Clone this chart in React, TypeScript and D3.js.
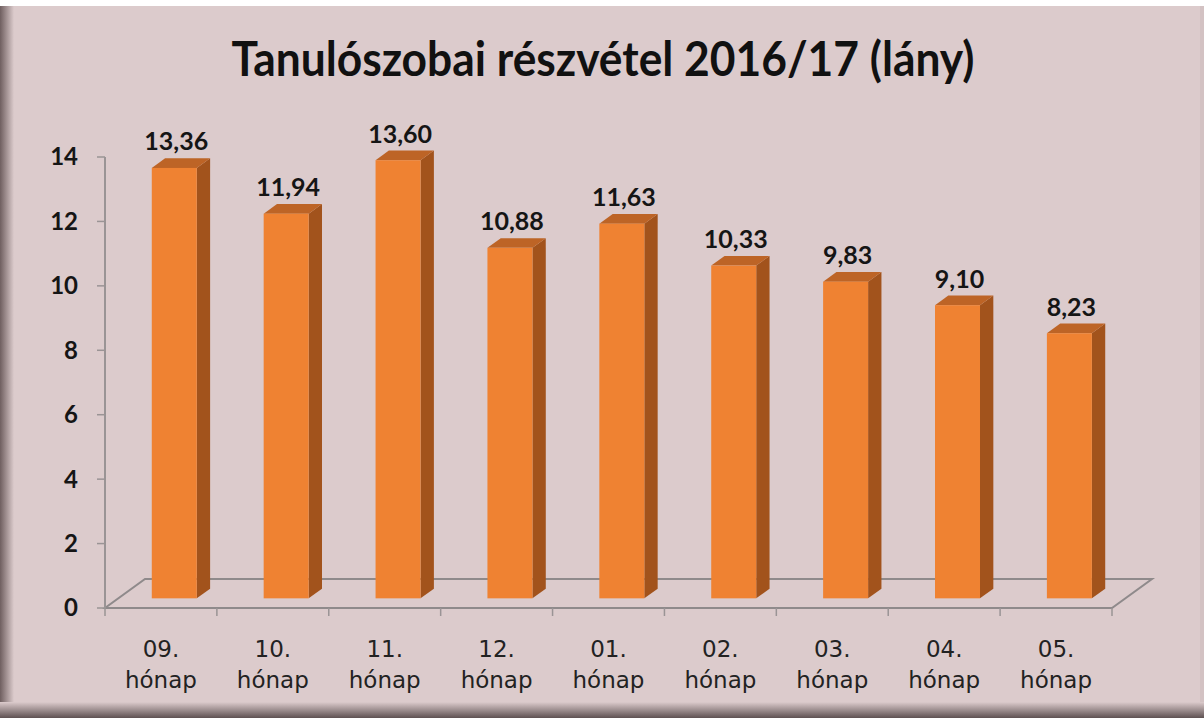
import { useEffect, useRef } from 'react';
import * as d3 from 'd3';

const months = ['09.', '10.', '11.', '12.', '01.', '02.', '03.', '04.', '05.'];
const values = [13.36, 11.94, 13.6, 10.88, 11.63, 10.33, 9.83, 9.1, 8.23];
const yTicks = [0, 2, 4, 6, 8, 10, 12, 14];

const W = 1204;
const H = 718;

function App() {
  const svgRef = useRef<SVGSVGElement>(null);

  useEffect(() => {
    const svg = d3.select(svgRef.current);
    svg.selectAll('*').remove();

    // background + frame
    const defs = svg.append('defs');
    const lg = defs.append('linearGradient').attr('id', 'leftEdge').attr('x1', 0).attr('x2', 1);
    lg.append('stop').attr('offset', 0).attr('stop-color', '#6f5f60');
    lg.append('stop').attr('offset', 1).attr('stop-color', '#dccbcc');
    const bg = defs.append('linearGradient').attr('id', 'botEdge').attr('x1', 0).attr('x2', 0).attr('y1', 0).attr('y2', 1);
    bg.append('stop').attr('offset', 0).attr('stop-color', '#dccbcc');
    bg.append('stop').attr('offset', 1).attr('stop-color', '#5e5152');

    svg.append('rect').attr('width', W).attr('height', H).attr('fill', '#ffffff');
    svg.append('rect').attr('x', 0).attr('y', 6).attr('width', W).attr('height', H - 6).attr('fill', '#dccbcc');
    svg.append('rect').attr('x', 0).attr('y', 6).attr('width', 14).attr('height', H - 6).attr('fill', 'url(#leftEdge)');
    svg.append('rect').attr('x', 0).attr('y', 702).attr('width', W).attr('height', 16).attr('fill', 'url(#botEdge)');
    svg.append('rect').attr('x', W - 4).attr('y', 6).attr('width', 4).attr('height', 696).attr('fill', '#d3c2c3');

    // title
    svg.append('text')
      .attr('x', 603).attr('y', 76)
      .attr('text-anchor', 'middle')
      .attr('textLength', 743)
      .attr('lengthAdjust', 'spacingAndGlyphs')
      .style('font-family', 'Lato, sans-serif')
      .style('font-weight', 'bold')
      .style('font-size', '47px')
      .attr('fill', '#111')
      .text('Tanulószobai részvétel 2016/17 (lány)');

    const x0 = 105, x1 = 1112;
    const depth = { x: 40, y: -29 };
    const x = d3.scaleBand().domain(months).range([x0, x1]).paddingInner(0).paddingOuter(0);
    const y = d3.scaleLinear().domain([0, 14]).range([608, 157]);

    // floor
    const floor = [
      [x0, y(0)], [x1, y(0)], [x1 + depth.x, y(0) + depth.y], [x0 + depth.x, y(0) + depth.y],
    ];
    svg.append('path')
      .attr('d', d3.line()(floor as [number, number][]) + 'Z')
      .attr('fill', 'none')
      .attr('stroke', '#8f8a8b')
      .attr('stroke-width', 2);

    // y axis
    svg.append('line')
      .attr('x1', x0).attr('x2', x0).attr('y1', y(14)).attr('y2', y(0))
      .attr('stroke', '#9a9495').attr('stroke-width', 2);
    const yg = svg.append('g');
    yTicks.forEach(t => {
      yg.append('line').attr('x1', x0 - 8).attr('x2', x0).attr('y1', y(t)).attr('y2', y(t))
        .attr('stroke', '#9a9495').attr('stroke-width', 1.5);
      yg.append('text')
        .attr('x', 78).attr('y', y(t)).attr('dy', '0.35em')
        .attr('text-anchor', 'end')
        .style('font-family', 'Lato, sans-serif')
        .style('font-weight', 'bold')
        .style('font-size', '24px')
        .attr('fill', '#151515')
        .text(t);
    });

    // x ticks + labels
    const xg = svg.append('g');
    [...months.map(m => x(m)!), x1].forEach(v => {
      xg.append('line').attr('x1', v).attr('x2', v).attr('y1', y(0)).attr('y2', y(0) + 8)
        .attr('stroke', '#9a9495').attr('stroke-width', 1.5);
    });
    months.forEach(m => {
      const cx = x(m)! + x.bandwidth() / 2;
      const t = xg.append('text')
        .attr('text-anchor', 'middle')
        .style('font-family', '"DejaVu Sans", sans-serif')
        .style('font-size', '23px')
        .attr('fill', '#222');
      t.append('tspan').attr('x', cx).attr('y', 657).text(m);
      t.append('tspan').attr('x', cx).attr('y', 688).text('hónap');
    });

    // bars (3D)
    const bw = 45;
    const f1 = 1 / 3, f2 = 2 / 3;
    const bars = svg.append('g');
    months.forEach((m, i) => {
      const v = values[i];
      const bx = x(m)! + (x.bandwidth() - bw) / 2 + depth.x * f1;
      const by0 = y(0) + depth.y * f1;
      const byT = y(v) + depth.y * f1;
      const dx = depth.x * (f2 - f1);
      const dy = depth.y * (f2 - f1);
      const line = d3.line();
      // side face
      bars.append('path')
        .attr('d', line([[bx + bw, by0], [bx + bw + dx, by0 + dy], [bx + bw + dx, byT + dy], [bx + bw, byT]]) + 'Z')
        .attr('fill', '#a2531c');
      // top face
      bars.append('path')
        .attr('d', line([[bx, byT], [bx + dx, byT + dy], [bx + bw + dx, byT + dy], [bx + bw, byT]]) + 'Z')
        .attr('fill', '#bd6426');
      // front face
      bars.append('rect')
        .attr('x', bx).attr('y', byT).attr('width', bw).attr('height', by0 - byT)
        .attr('fill', '#ef8232');
      // value label
      bars.append('text')
        .attr('x', bx + bw / 2 + 2).attr('y', byT + dy - 8)
        .attr('text-anchor', 'middle')
        .style('font-family', 'Lato, sans-serif')
        .style('font-weight', 'bold')
        .style('font-size', '25px')
        .attr('fill', '#151515')
        .text(d3.format('.2f')(v).replace('.', ','));
    });
  }, []);

  return (
    <svg ref={svgRef} width={W} height={H} style={{ position: 'absolute', left: 0, top: 0 }} />
  );
}

export default App;
